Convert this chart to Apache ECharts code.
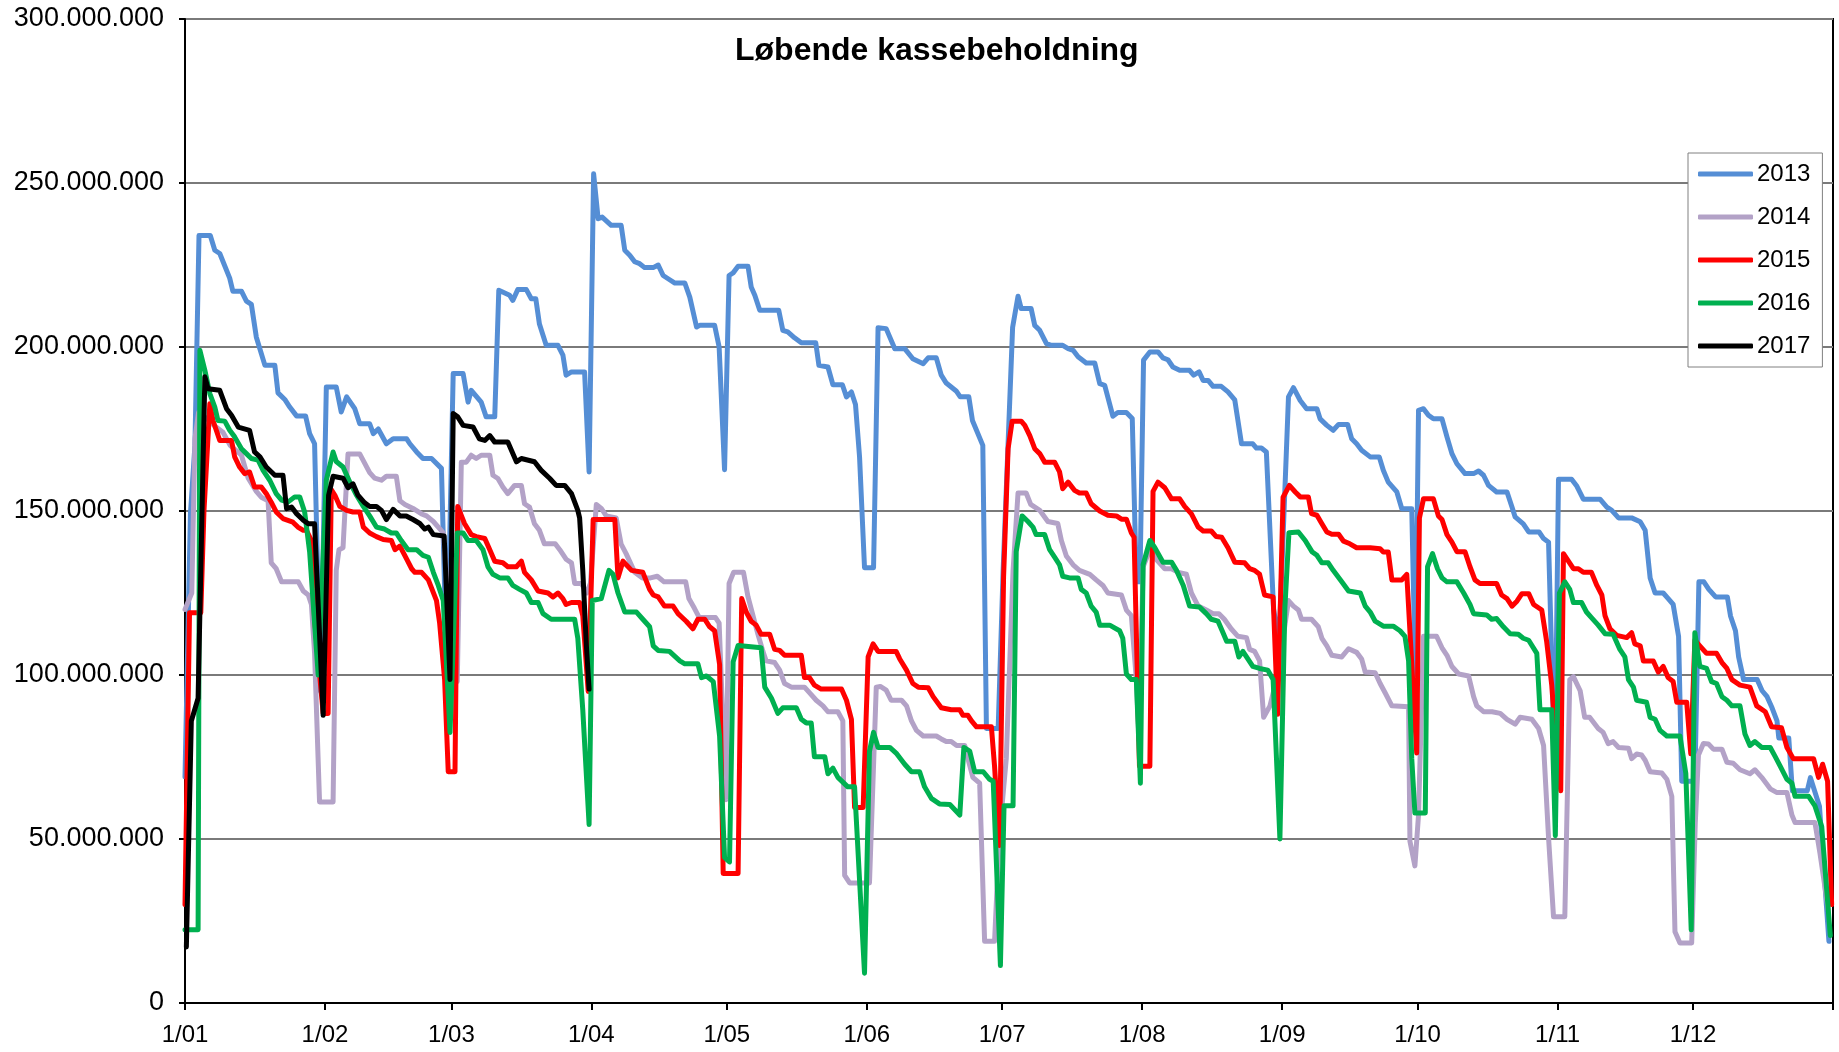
<!DOCTYPE html>
<html>
<head>
<meta charset="utf-8">
<title>Løbende kassebeholdning</title>
<script src="https://cdn.jsdelivr.net/npm/echarts@6/dist/echarts.min.js"></script>
<style>
html, body { margin: 0; padding: 0; background: #fff; }
#chart { width: 1839px; height: 1052px; }
</style>
</head>
<body>
<div id="chart"></div>
<script>
// dag i året (0 = 1/01) og beholdning i mio. kr.
var monthDays = [0, 31, 59, 90, 120, 151, 181, 212, 243, 273, 304, 334];
var monthLabels = ['1/01', '1/02', '1/03', '1/04', '1/05', '1/06', '1/07', '1/08', '1/09', '1/10', '1/11', '1/12'];
var seriesNames = ['2013', '2014', '2015', '2016', '2017'];
var seriesColors = ['#558ed5', '#b3a2c7', '#ff0000', '#00b050', '#000000'];

var s2013 = [[0,69],[1.2,149],[2.2,170],[3.1,234],[5.6,234],[6.6,229.5],[7.7,228.5],[9.9,221],[10.6,217],[12.5,217],[13.6,214],[14.7,213],[15.8,203],[17.7,194.4],[19.9,194.4],[20.6,186],[22.1,184],[23.2,181.7],[24.7,179],[26.7,179],[27.6,173.6],[28.7,170.5],[30,95],[31.3,187.8],[33.5,187.8],[34.6,180.2],[35.8,184.8],[37.6,181.2],[38.7,176.6],[40.9,176.6],[41.7,173.6],[42.8,175],[44.6,170.5],[46.1,172],[49.1,172],[49.8,170.5],[51.3,168],[52.7,166],[54.6,166],[56.8,163],[58,100],[59.4,191.9],[61.6,191.9],[62.7,183.2],[63.4,186.8],[65.6,183.2],[66.7,178.7],[68.6,178.7],[69.5,217.3],[71.9,215.8],[72.6,214.2],[73.7,217.5],[75.6,217.5],[76.7,214.7],[77.7,214.7],[78.5,207],[80,200.5],[82.6,200.5],[83.7,197.5],[84.4,191.4],[85.6,192.4],[88.5,192.4],[89.5,161.9],[90.5,252.8],[91.5,239.1],[92.4,239.6],[94.4,237.1],[96.6,237.1],[97.4,229.5],[98.5,228],[99.6,226],[100.7,225.4],[101.8,224.2],[103.7,224.2],[104.8,225],[105.9,221.8],[107,220.8],[108.5,219.5],[110.7,219.5],[111.8,215.2],[113.3,206.1],[114,206.6],[117.3,206.6],[118.3,200],[119.5,162.6],[120.5,221.8],[121.4,222.6],[122.5,224.6],[124.7,224.6],[125.4,218.3],[126.2,215.8],[127.3,211.2],[131.5,211.2],[132.4,205.1],[133.5,204.6],[135,202.8],[136.5,201.3],[139.7,201.3],[140.4,194.4],[142.4,193.9],[143.5,188.5],[145.6,188.5],[146.5,184.8],[147.6,186.3],[148.5,182.5],[149.4,166.5],[150.5,132.7],[152.5,132.7],[153.5,205.9],[155.3,205.6],[157.2,199.5],[159.4,199.5],[161.2,196.4],[163.5,194.9],[164.6,196.7],[166.4,196.7],[167.5,191.4],[168.6,189],[170.8,186.6],[171.7,184.8],[173.6,184.8],[174.4,177.6],[176.7,170],[177.5,83.7],[180.1,83.7],[181.2,131.9],[183.3,206],[184.5,215.5],[185.2,211.7],[187.4,211.7],[188.2,206.6],[189.3,205.1],[190.8,201],[191.9,200.5],[194.4,200.5],[195.6,199.5],[196.7,199],[197.8,197],[199.6,195.1],[201.5,195.1],[202.6,188.8],[203.7,188.3],[205.5,178.9],[206.6,180],[208.5,180],[209.8,178.2],[210.7,128.4],[211.5,128.4],[212.3,196],[213.7,198.5],[215.5,198.5],[216.6,196.7],[217.7,196.1],[218.8,193.9],[220.3,192.9],[222.5,192.9],[223.4,191.4],[224.6,192.4],[225.5,189.8],[226.6,189.8],[227.7,188],[229.5,188],[231,186.3],[232.5,183.9],[234,170.5],[236.5,170.5],[237.3,169.2],[238.4,169.2],[239.5,168],[241.1,120],[242.3,110],[244.4,184.8],[245.5,187.6],[247,183.7],[248.4,181.2],[250.7,181.2],[251.4,178.1],[252.9,176.1],[254.3,174.6],[255.5,176.4],[257.5,176.4],[258.4,172],[259.5,170.5],[260.6,168.5],[262.5,166.5],[264.5,166.5],[265.4,162.4],[266.5,158.8],[268.4,155.8],[269.5,150.7],[271.7,150.7],[272.5,100],[273.2,180.7],[274.3,181.2],[275.4,179.2],[276.5,178.1],[278.4,178.1],[279.5,172.6],[280.6,167.5],[281.7,164.4],[283.5,161.4],[285.4,161.4],[286.5,162.2],[287.6,160.9],[288.7,157.8],[290.5,155.8],[292.8,155.8],[293.9,151.2],[294.6,148.2],[296.4,146.1],[297.6,143.6],[299.9,143.6],[300.9,141.6],[302,140.5],[303.4,70],[304.2,159.7],[307.1,159.7],[308.2,157.7],[309.7,153.6],[313.4,153.6],[314.9,151.2],[316,150.2],[317.5,147.9],[320.4,147.9],[322.3,146.7],[323.4,144.1],[324.5,129.6],[325.6,125],[327.4,125],[328.5,123.3],[329.6,121.5],[330.8,111.8],[331.5,67.6],[334.4,67.6],[335.3,128.4],[336.4,128.4],[337.5,126.1],[339,123.8],[341.6,123.8],[342.3,118],[343.4,113.5],[344.1,105.5],[345.2,98.6],[348.2,98.6],[349.3,95.2],[350.4,93.4],[351.5,90],[352.6,86],[353,80.8],[355.2,80.8],[356,64.7],[359.3,64.7],[360,68.7],[362,60],[364.1,18.8]];

var s2014 = [[0,120],[1.5,125],[2.2,172],[3,180],[5,178],[6.5,176],[8.4,174],[10,170],[12.5,167],[14,160],[15.8,156],[16.9,154.2],[18.4,153.1],[19.1,134.2],[20.2,132.4],[21.4,128.4],[25.1,128.4],[26.2,125.6],[27.3,124.4],[28,121.5],[28.7,106.6],[29.8,61.3],[32.8,61.3],[33.5,131.9],[34.1,138.2],[35,138.8],[36.1,167.4],[38.7,167.4],[40.9,161.7],[42,160],[43.5,159.4],[44.6,160.6],[46.8,160.6],[47.6,153.1],[48.7,152],[50.5,150.8],[52.4,149.1],[53.5,148.5],[55,146.8],[56.1,145.1],[57.2,143.3],[58.5,120],[60.3,98],[61.2,164.9],[62.3,164.9],[63.4,167],[64.5,166],[65.6,167],[67.5,167],[68.2,160.9],[69.3,159.9],[70.4,157.3],[71.5,155.3],[73,157.8],[74.5,157.8],[75.2,152.2],[76.3,151.2],[77.4,146.1],[78.5,144.1],[79.6,140],[82,140],[83,138.2],[84.4,135.3],[85.6,134.2],[86.3,127.9],[87.8,127.9],[89,125],[89.8,128],[91.1,152],[92.2,150.8],[93.3,148.5],[95.5,147.9],[96.6,139.9],[97.7,137],[99.6,131.3],[101.3,129.6],[103.1,129.6],[104.6,130.1],[106.1,128.4],[110.9,128.4],[111.6,123.3],[112.8,120.4],[113.9,117.5],[117.5,117.5],[118.3,115.8],[119.8,62],[120.5,127.9],[121.5,131.3],[123.7,131.3],[124.7,123.8],[125.8,118.1],[126.9,112.4],[128,107.2],[128.7,104.3],[130.6,103.8],[131.7,101.5],[132.8,97.4],[134.3,96.3],[137.2,96.3],[138.3,94.6],[139.8,92.3],[141.3,90.6],[142.4,88.8],[144.6,88.8],[145.7,86],[146.1,38.9],[147.2,36.6],[151.6,36.6],[153.1,96.3],[154,96.5],[155.3,95.4],[156.4,92.3],[158.7,92.3],[159.8,90.6],[160.9,86],[162,83.1],[163.5,81.4],[166.4,81.4],[167.5,80.5],[168.6,79.7],[169.7,79.7],[170.9,78.5],[172.7,78.5],[173.4,74.5],[174.5,68.8],[176,67],[177.1,18.8],[179.3,18.8],[180.4,51.5],[181.9,74.5],[183.4,131.9],[184.5,155.5],[186.3,155.5],[187.3,152],[189.3,150.2],[191.1,146.8],[193.3,146.2],[194.1,141],[195.2,136.3],[196.7,133.6],[198.1,131.9],[200.4,130.7],[201.8,129],[203.3,127.3],[204.4,125],[207.4,124.4],[208.5,119.8],[209.6,118.1],[210.7,98.6],[211.3,80],[212.2,133],[213.7,138.2],[215.1,135.3],[217,132.4],[218.5,132.4],[220,131.3],[221.8,130.7],[222.9,125],[224.4,121],[226.2,119.8],[227.7,118.7],[229,118.7],[230.2,117],[231.7,114.1],[233.2,111.8],[235.1,111.4],[235.8,107.8],[236.9,107.2],[238,104.3],[238.9,87.1],[240.3,90.6],[242,100],[244.4,122.7],[245.5,121],[246.6,119.8],[247.3,117],[249.5,117],[251,114.7],[251.8,111.2],[252.9,108.9],[254,106],[256.2,105.5],[257.7,108],[259.5,106.9],[260.6,104.9],[261.4,100.9],[263.6,100.7],[264.7,97.4],[265.8,94.6],[267.3,90.6],[271,90.3],[271.3,49.3],[272.4,41.8],[273.2,57.3],[274.3,111.8],[277.2,111.8],[278.4,108.3],[279.5,106],[280.6,102.6],[282.1,100.3],[284.3,99.7],[285.4,93.4],[286.1,90.6],[287.6,88.8],[289.5,88.8],[291.3,88.3],[292.8,86.5],[294.6,85],[295.7,87.1],[298.3,86.5],[299.8,83.7],[300.9,78.5],[302,50.4],[303.1,26.3],[305.6,26.3],[306.7,98.6],[307.5,99.5],[309,95.2],[310,87.1],[311.1,87.1],[313,83.7],[314.1,82.5],[315.2,79.1],[316.3,79.7],[317.5,77.9],[319.7,77.7],[320.4,74.5],[321.5,75.9],[322.6,75.6],[323.4,74],[324.5,70.5],[327.1,70.1],[328.2,68.2],[329.3,63],[330,21.7],[331.1,18.3],[333.7,18.3],[334.5,55],[335.2,75.6],[336.3,79.1],[337.4,79],[338.5,77.4],[340.4,77.4],[341.5,73.4],[342.9,73.1],[344.4,71.1],[346.6,69.9],[347.7,71.1],[349.2,68.8],[351.1,65.3],[352.5,64.2],[354.8,64.2],[355.9,57.3],[356.6,55],[361,55],[362.1,45.8],[364,28]];

var s2015 = [[0,30],[1,119],[3.5,119],[4.2,150],[5.5,182.7],[6.2,177.6],[7.7,171.5],[10.3,171.5],[11,166.5],[12.1,163.4],[13.2,161.4],[14.3,161.9],[15.4,157.3],[16.9,157.3],[18,155.3],[19.1,152.7],[20.2,149.7],[21.7,147.7],[23.9,146.6],[25,145.1],[26.2,144.1],[26.9,144.1],[28,141],[28.7,117],[30.6,88.3],[31.7,88.3],[32.4,156.5],[33.2,154.8],[34.3,151.4],[35.8,150.2],[37.2,149.7],[38.7,149.7],[39.5,145.1],[40.9,143.3],[42.4,142.2],[43.9,141.3],[45.7,141],[46.5,138.2],[47.6,139.3],[49.1,135.3],[50.2,132.4],[50.9,131.3],[52.4,131.3],[53.9,129],[55.7,122.7],[56.4,115.8],[57.5,98.6],[58.3,70.5],[59.8,70.5],[60.4,151.4],[61.9,146.2],[63.4,142.8],[64.5,142.2],[66.4,141.6],[67.5,138.2],[68.6,134.7],[70.4,134.2],[71.5,133],[73.4,133],[74.5,134.7],[75.2,131.3],[76.7,129],[78.2,125.6],[80.4,125],[81.5,123.8],[82.6,125],[83.7,123.3],[84.4,121.5],[85.6,122.1],[87.4,122.1],[88.1,118.1],[89.3,95],[90.4,147.4],[95.2,147.4],[95.9,129.6],[97,134.7],[98.9,131.9],[101.4,131.3],[102.9,126.1],[103.7,124.4],[104.8,123.8],[106.2,121],[108.1,121],[109.2,118.7],[111,116.4],[112.5,114.1],[113.6,117],[115.1,117],[116.2,114.7],[117.3,113.5],[118.4,103.2],[119.2,39.5],[122.5,39.5],[123.3,123.3],[124.3,119.2],[125.4,116.4],[126.5,115.2],[127.6,112.4],[129.5,112.4],[130.6,107.8],[131.7,107.5],[132.8,106],[136.5,106],[137.2,99.2],[138.3,99.2],[139.4,96.9],[140.9,95.7],[145.4,95.7],[146.5,92.3],[147.6,86.5],[148.3,59.6],[150.2,59.6],[151.3,105.5],[152.4,109.5],[153.5,107.2],[157.5,107.2],[158.3,104.9],[159.8,101.5],[161.2,97.4],[162.4,96.3],[164.6,96.1],[165.7,93.4],[167.5,90],[169.7,89.4],[171.6,89.4],[172.3,87.7],[173.4,87.7],[174.2,86],[175.3,84.2],[178.6,84.2],[179.3,72.2],[180.4,48],[181.3,130],[182.3,169],[183.2,177.4],[185.2,177.4],[186,176.1],[187.1,173],[188.2,169],[189.3,167.5],[190.4,164.9],[192.6,164.9],[193.7,161.9],[194.4,156.8],[195.6,158.8],[197,156.3],[198.1,155.5],[199.6,155.5],[200.7,152.2],[202.6,150],[204.4,148.7],[206.3,148.5],[207.4,147.5],[208.5,147.5],[209.6,143.3],[210.2,142],[211.4,72.2],[213.7,72.2],[214.4,156],[215.5,158.8],[217,157.1],[218.5,153.7],[220.3,153.7],[221.4,151.4],[222.9,149.1],[224.4,145.1],[225.5,143.9],[227.3,143.9],[228.4,142.2],[229.6,142],[231,138.8],[232.5,134.4],[234.7,134.2],[235.8,132.4],[236.9,131.9],[238,130.7],[239.1,124.4],[241,123.8],[242,88],[243.2,154.2],[244.6,157.8],[245.9,155.8],[247,154.3],[248.8,154.3],[249.5,149.2],[250.7,148.7],[251.8,146.1],[252.9,143.6],[254,142.9],[255.5,142.9],[256.6,140.8],[258,140],[259.5,138.8],[262.5,138.8],[264.7,138.5],[265.4,137.5],[266.5,137.5],[267.3,129],[269.5,129],[270.6,130.7],[272.8,76.2],[273.4,147.9],[274.3,153.7],[276.5,153.7],[277.6,148.5],[278.4,147.4],[279.5,142.8],[280.6,140.5],[281.7,137.6],[283.5,137.6],[284.6,133],[285.7,129],[286.8,127.9],[290.5,127.9],[291.6,124.4],[292.8,123.3],[293.9,121],[295,122.5],[296.1,124.8],[297.6,124.8],[298.7,121.5],[300.5,119.8],[301.6,110],[302.7,97],[303.4,83.7],[304.7,64.7],[305.3,137],[306.4,134.7],[307.5,132.4],[308.6,132.4],[309.7,131.3],[311.5,131.3],[312.7,127.3],[313.8,124.4],[314.5,118.1],[315.6,114.1],[317.1,112.1],[319.3,111.4],[320.4,112.9],[321.1,109.5],[322.3,108.9],[323,104.3],[325.2,104.3],[326.3,100.9],[327.4,102.6],[328.5,99.2],[329.6,98],[330.4,91.7],[332.6,91.7],[333.5,76],[334.4,110.6],[335.5,108.9],[337,106.6],[339.2,106.6],[340.4,103.8],[341.5,102],[342.6,98.6],[344.4,96.9],[346.6,96.3],[348.1,90.6],[350,88.8],[351.4,84.2],[353.6,83.9],[354.8,77.9],[356.2,74.5],[360.7,74.5],[361.8,68.8],[362.7,72.8],[363.8,67.6],[364.7,30]];

var s2016 = [[0,22.3],[2.9,22.3],[3.3,199],[4.4,192.9],[5.5,185.8],[6.6,181.7],[7.3,177.6],[8.8,177.4],[9.9,174.6],[11,172.6],[12.5,169],[13.6,167.5],[14.7,166],[16.2,165.5],[17.3,162.4],[18.8,159.3],[20.2,155.3],[21.4,153.3],[22.8,152.7],[24.3,154.3],[25.4,154.3],[26.5,149.7],[27.6,137.6],[29.5,100],[31.3,159.4],[32.8,168],[33.5,165.1],[35,163.4],[36.5,158.8],[38,154.8],[39.5,151.4],[40.9,148.5],[42.4,145.1],[44.2,144.5],[45.7,143.3],[46.8,143.3],[47.9,141],[49.4,138.2],[51.3,138.2],[52.7,136.5],[53.9,135.9],[55,131.3],[56.1,127.3],[57.2,122.7],[58.7,82.5],[60.3,143.3],[61.6,143.3],[62.7,141],[64.5,141],[66,138.2],[67.1,133],[68.2,130.7],[69.7,129.6],[71.5,129.6],[72.6,127.3],[74.1,126.1],[75.6,125],[76.7,122.1],[78.2,122.1],[79.3,118.7],[81.1,117],[86.3,117],[87,111.2],[88.1,89.4],[89.5,54.4],[90.2,122.7],[92.2,123.3],[93.9,131.9],[94.8,130.7],[95.9,125],[97.4,119.2],[100,119.2],[101.4,117],[102.9,114.7],[103.7,108.9],[104.8,107.5],[107.3,107.2],[109.6,104.3],[110.7,103.4],[113.6,103.4],[114.4,99.2],[115.5,99.7],[117,98],[118.4,81.4],[119.5,44.4],[120.6,43],[121.4,104],[122.5,109],[127.6,108.3],[128.4,96.3],[129.9,92.9],[131.3,88.3],[132.4,90],[135.4,90],[136.5,86.5],[137.6,85.4],[138.7,85.4],[139.4,75.1],[141.7,75.1],[142.4,69.9],[143.5,71.6],[144.6,68.8],[146.8,65.9],[148.3,65.9],[150.5,9.1],[151.6,76.8],[152.5,82.5],[153.5,77.9],[156.1,77.9],[157.5,76.2],[159.4,72.8],[160.9,70.5],[162.7,70.5],[163.8,65.9],[165.3,62.4],[167.1,60.7],[169.4,60.5],[171.6,57.3],[172.5,77.9],[173.8,76.8],[174.9,70.5],[176.8,70.5],[178.2,68.2],[179,67.6],[180.6,11.4],[181.4,60.1],[183.4,60.1],[184.1,137.6],[185.4,148.5],[186.7,146.8],[187.8,145.1],[188.5,142.8],[190.4,142.8],[191.5,138.2],[192.6,135.9],[193.7,133.6],[194.4,130.1],[195.9,129.6],[197.8,129.6],[198.5,126.1],[199.6,125],[200.7,121],[201.8,119.2],[202.6,115.2],[204.8,115.2],[207,113.5],[207.7,111.2],[208.5,100.3],[209.6,98.6],[210.7,98.6],[211.6,67],[212.2,133.6],[213.7,141],[214.8,138.8],[216.6,134.4],[218.5,134.4],[219.6,131.9],[221.1,127.3],[222.5,121],[224.7,120.7],[226.2,118.7],[227.3,117],[228.8,116.4],[229.9,112.9],[230.7,110.3],[232.5,110.3],[233.4,105.5],[234.3,107.2],[235.4,104.9],[236.5,102.6],[238,102],[239.8,101.5],[241,98.6],[242.5,50],[243.6,120.4],[244.5,143.4],[246.6,143.6],[248.1,141],[249.6,137.6],[250.7,136.5],[251.8,134.2],[253.2,134.2],[254.3,131.9],[256.2,128.4],[257.7,125.6],[260.3,125],[261.4,121],[262.5,119.2],[263.6,116.4],[265.4,114.9],[267.6,114.9],[269.1,113.5],[270.2,111.8],[271,104.3],[271.7,74.5],[272.4,57.9],[274.7,57.9],[275.2,133],[276.3,137],[277.4,132.4],[278.4,129.6],[279.5,128.4],[281.7,128.4],[283.2,125],[284.6,121.5],[285.4,118.7],[288.3,118.3],[289.4,117],[290.5,117.2],[292,114.7],[293.5,112.6],[295.3,112.4],[296.4,111.2],[297.6,110.6],[299.4,106.6],[300.1,89.4],[302.7,89.4],[303.5,51],[304.4,125],[305.6,128.4],[306.7,126.1],[307.5,122.1],[309.3,122.1],[310.4,119.2],[311.5,117.5],[313,115.2],[314.5,112.6],[316.3,112.4],[317.8,107.8],[318.9,105.5],[319.7,98.6],[320.8,96.3],[321.5,92.3],[323.7,91.7],[324.5,87.1],[325.6,86.5],[326.7,83.1],[328.2,81.4],[331.1,81.4],[332.4,70],[333.6,22.3],[334.4,112.9],[335.5,102.6],[337,102],[338.1,98],[339.2,97.4],[340.4,93.4],[341.5,92.3],[342.6,90.6],[344.4,90.6],[345.5,82],[346.6,78.5],[347.7,79.7],[349.2,77.9],[351.1,77.9],[352.2,75.1],[353.3,72.2],[354.8,68.2],[355.9,67],[356.6,63],[359.6,63],[361,60.1],[362.5,53.8],[364.4,20.6]];

var s2017 = [[0.3,17.1],[1.4,86],[2.9,92.9],[4.4,190.9],[5.1,187.3],[7.7,186.8],[9.2,181.2],[10.3,179.2],[11.8,175.6],[14.3,174.6],[15.4,168],[16.6,166.5],[18,163.4],[19.9,160.9],[21.7,160.9],[22.5,150.7],[23.6,151.2],[24.7,149.2],[26.2,147.2],[27.3,146.1],[28.7,146.1],[30.6,87.7],[31.8,154.8],[32.8,160.6],[35,160],[36.1,157.1],[37.2,158.3],[38.3,154.8],[39.8,152.5],[40.9,151.4],[42.4,151.4],[43.5,150.2],[44.6,147.4],[46.1,150.5],[47.6,148.5],[49,148.5],[50.5,147.4],[52,146.2],[53.1,144.5],[53.9,145.1],[55,142.8],[57.4,142.4],[58.7,98.6],[59.4,179.7],[60.4,178.7],[61.6,176.1],[63.8,175.6],[65.2,172],[66.4,171.5],[67.5,173],[68.6,171],[71.5,171],[73.4,165],[74.5,166],[77.4,165],[78.9,162.4],[80.8,159.9],[82.2,157.8],[84.1,157.8],[85.6,155.3],[87,150.2],[87.4,147.9],[88.1,131.9],[88.9,108.9],[89.5,95.7]];

var allData = [s2013, s2014, s2015, s2016, s2017];
var fontName = '"Liberation Sans", Arial, sans-serif';

function moneyFormat(value) {
	if (value == 0) {
		return '0';
	}
	return String(Math.round(value * 1000000)).replace(/\B(?=(\d{3})+(?!\d))/g, '.');
}

function monthFormat(value) {
	var i = monthDays.indexOf(Math.round(value));
	return i >= 0 ? monthLabels[i] : '';
}

var myChart = echarts.init(document.getElementById('chart'));
var seriesList = [];
for (var i = 0; i < seriesNames.length; i++) {
	seriesList.push({
		name: seriesNames[i],
		type: 'line',
		data: allData[i],
		color: seriesColors[i],
		symbol: 'none',
		showSymbol: false,
		lineStyle: { width: 5, color: seriesColors[i], cap: 'round', join: 'round' }
	});
}

var option = {
	animation: false,
	backgroundColor: '#ffffff',
	textStyle: { fontFamily: fontName },
	title: {
		text: 'Løbende kassebeholdning',
		left: 730,
		top: 30,
		textStyle: { fontSize: 32, fontWeight: 'bold', color: '#000', fontFamily: fontName }
	},
	legend: {
		data: seriesNames,
		orient: 'vertical',
		left: 1688,
		top: 153,
		icon: 'roundRect',
		itemWidth: 55,
		itemHeight: 5,
		itemGap: 19,
		padding: [9, 12, 9, 10],
		borderColor: '#808080',
		borderWidth: 1,
		backgroundColor: '#ffffff',
		textStyle: { fontSize: 24, lineHeight: 24, color: '#000', fontFamily: fontName, padding: [0, 0, 0, -1] }
	},
	grid: {
		left: 185,
		right: 6,
		top: 19,
		bottom: 49,
		show: true,
		borderColor: '#000',
		borderWidth: 2
	},
	xAxis: {
		type: 'value',
		min: 0,
		max: 365,
		axisLine: { show: true, lineStyle: { color: '#000', width: 2 } },
		axisTick: { show: true, customValues: monthDays.concat([365]), length: 7, lineStyle: { color: '#000', width: 2 } },
		axisLabel: { customValues: monthDays, formatter: monthFormat, fontSize: 24, color: '#000', margin: 20, fontFamily: fontName },
		splitLine: { show: false }
	},
	yAxis: {
		type: 'value',
		min: 0,
		max: 300,
		interval: 50,
		axisLine: { show: true, lineStyle: { color: '#000', width: 2 } },
		axisTick: { show: true, length: 6, lineStyle: { color: '#000', width: 2 } },
		axisLabel: { formatter: moneyFormat, fontSize: 27, color: '#000', margin: 21, fontFamily: fontName },
		splitLine: { show: true, lineStyle: { color: '#7a7a7a', width: 2 } }
	},
	series: seriesList
};
myChart.setOption(option);
</script>
</body>
</html>
